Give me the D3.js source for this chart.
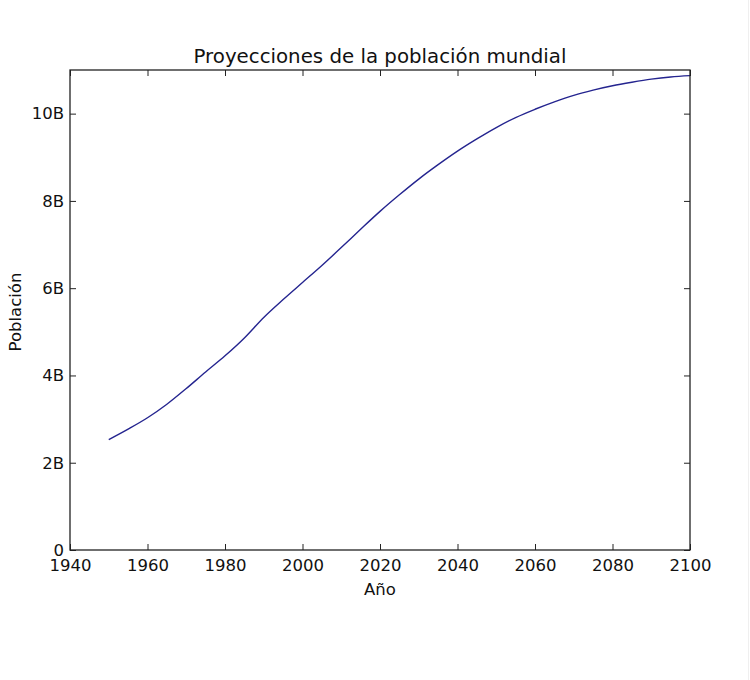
<!DOCTYPE html>
<html>
<head>
<meta charset="utf-8">
<script src="https://cdn.jsdelivr.net/npm/d3@7"></script>
<style>
  html, body { margin: 0; padding: 0; background: #fff; }
  svg { display: block; font-family: "DejaVu Sans", sans-serif; }
</style>
</head>
<body>
<svg id="chart" width="750" height="680"></svg>
<script>
const years = [1950,1955,1960,1965,1970,1975,1980,1985,1990,1995,2000,2005,2010,2015,2020,2025,2030,2035,2040,2045,2050,2055,2060,2065,2070,2075,2080,2085,2090,2095,2100];
const population = [2.53,2.77,3.03,3.34,3.70,4.08,4.45,4.86,5.33,5.74,6.13,6.52,6.93,7.35,7.76,8.14,8.50,8.83,9.14,9.42,9.68,9.91,10.10,10.27,10.42,10.54,10.64,10.72,10.79,10.84,10.87];
const xTicks = [1940,1960,1980,2000,2020,2040,2060,2080,2100];
const yTicks = [0,2,4,6,8,10];
const yTickLabels = ["0","2B","4B","6B","8B","10B"];
const title = "Proyecciones de la población mundial";
const xLabel = "Año";
const yLabel = "Población";

const svg = d3.select("#chart");
const L = 70, R = 690, T = 70, B = 550;

const x = d3.scaleLinear().domain([1940, 2100]).range([L, R]);
const y = d3.scaleLinear().domain([0, 11]).range([B, T]);

// faint page edge
svg.append("line").attr("x1", 748.5).attr("x2", 748.5).attr("y1", 0).attr("y2", 680)
  .attr("stroke", "#efefef").attr("stroke-width", 1);

const data = years.map((yr, i) => ({ yr, v: population[i] }));
svg.append("path")
  .datum(data)
  .attr("fill", "none")
  .attr("stroke", "#24248f")
  .attr("stroke-width", 1.4)
  .attr("d", d3.line().x(d => x(d.yr)).y(d => y(d.v)).curve(d3.curveMonotoneX));

const tickLen = 6;
const tickFont = "16.5px";
function styleAxis(g) {
  g.select(".domain").remove();
  g.selectAll(".tick line").attr("stroke", "#222").attr("stroke-width", 1);
  g.selectAll(".tick text").attr("fill", "#111").style("font-size", tickFont).style("font-family", "'DejaVu Sans', sans-serif");
}

// bottom axis (ticks inward)
const gx = svg.append("g").attr("transform", `translate(0,${B})`)
  .call(d3.axisBottom(x).tickValues(xTicks).tickFormat(d3.format("d")).tickSizeInner(-tickLen).tickSizeOuter(0).tickPadding(9));
styleAxis(gx);
// top axis ticks
const gxt = svg.append("g").attr("transform", `translate(0,${T})`)
  .call(d3.axisTop(x).tickValues(xTicks).tickFormat("").tickSizeInner(-tickLen).tickSizeOuter(0));
styleAxis(gxt);
// left axis
const gy = svg.append("g").attr("transform", `translate(${L},0)`)
  .call(d3.axisLeft(y).tickValues(yTicks).tickFormat((d, i) => yTickLabels[i]).tickSizeInner(-tickLen).tickSizeOuter(0).tickPadding(6));
styleAxis(gy);
// right axis ticks
const gyr = svg.append("g").attr("transform", `translate(${R},0)`)
  .call(d3.axisRight(y).tickValues(yTicks).tickFormat("").tickSizeInner(-tickLen).tickSizeOuter(0));
styleAxis(gyr);

// frame
svg.append("rect").attr("x", L).attr("y", T).attr("width", R - L).attr("height", B - T)
  .attr("fill", "none").attr("stroke", "#222").attr("stroke-width", 1.3);

svg.append("text").attr("x", (L + R) / 2).attr("y", 63).attr("text-anchor", "middle")
  .style("font-size", "19.8px").attr("fill", "#111").text(title);
svg.append("text").attr("x", (L + R) / 2).attr("y", 595).attr("text-anchor", "middle")
  .style("font-size", "16.5px").attr("fill", "#111").text(xLabel);
svg.append("text").attr("transform", `translate(21,312) rotate(-90)`).attr("text-anchor", "middle")
  .style("font-size", "16.5px").attr("fill", "#111").text(yLabel);
</script>
</body>
</html>
